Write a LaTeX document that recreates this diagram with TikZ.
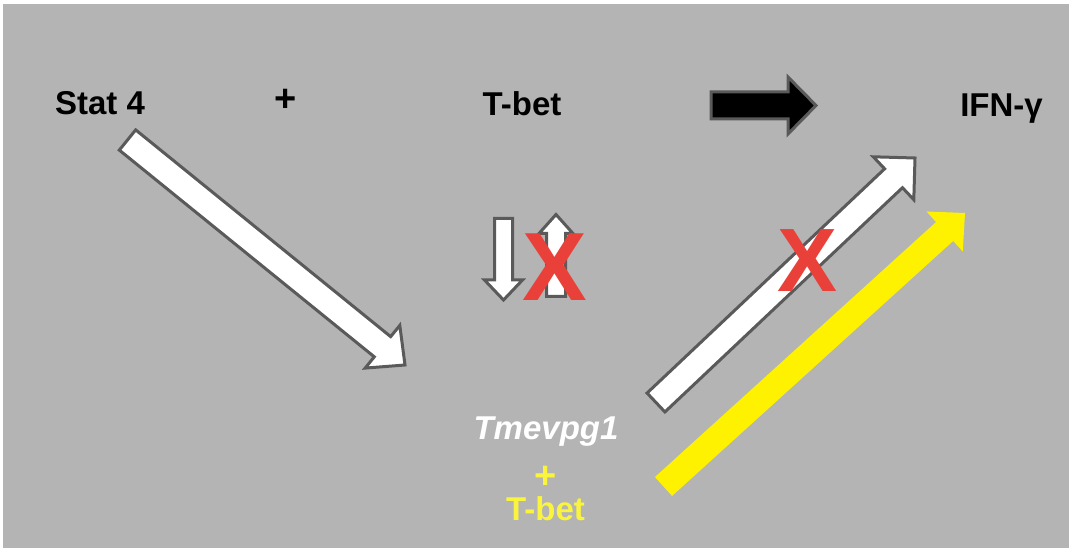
\documentclass[tikz,border=0pt]{standalone}
\usepackage{fontspec}
\setmainfont{Liberation Sans}
\usetikzlibrary{calc}
\definecolor{bggray}{RGB}{180,180,180}
\definecolor{rimgray}{RGB}{90,90,90}
\definecolor{xred}{RGB}{233,65,58}
\definecolor{txtyellow}{RGB}{250,245,60}

% block arrow: [style]{tail}{tip}{half shaft}{half head}{head length}
\newcommand\blockarrow[6][]{%
\coordinate (ba-h) at ($(#3)!#6!(#2)$);
\path[#1] ($(#2)!#4!90:(#3)$) -- ($(ba-h)!#4!90:(#3)$) -- ($(ba-h)!#5!90:(#3)$) -- (#3)
  -- ($(ba-h)!#5!-90:(#3)$) -- ($(ba-h)!#4!-90:(#3)$) -- ($(#2)!#4!-90:(#3)$) -- cycle;}

\begin{document}
\begin{tikzpicture}[x=1pt,y=-1pt,
  word/.style={font=\fontsize{33}{38}\selectfont\bfseries, inner sep=0pt, anchor=base},
  plussign/.style={font=\fontsize{38}{40}\selectfont\bfseries, inner sep=0pt},
  hollow/.style={draw=rimgray, fill=white, line width=3pt, line join=miter},
  solid/.style={draw=rimgray, fill=black, line width=3pt, line join=miter},
  nox/.style={font=\fontsize{#1}{#1}\selectfont\bfseries, text=xred, inner sep=0pt}]
\useasboundingbox (0,0) rectangle (1069,548);
\fill[white] (0,0) rectangle (1069,548);
\fill[bggray] (3,4) rectangle (1069,548);

% top row
\node[word] (stat) at (100,115) {Stat 4};
\node[plussign] (plus) at (286,100) {+};
\node[word] (tbet) at (522,116) {T-bet};
\node[word] (ifn) at (1001.5,117) {IFN-γ};

% bottom text
\node[word,text=white,font=\fontsize{33}{38}\selectfont\bfseries\itshape] (tmev) at (546,439) {Tmevpg1};
\node[plussign,text=txtyellow] (plusy) at (546,477) {+};
\node[word,text=txtyellow] (tbety) at (545.5,520) {T-bet};

% arrow ends
\coordinate (s4a) at (127.5,140);
\coordinate (s4b) at (405,365);
\coordinate (tma) at (656,402.5);
\coordinate (tmb) at (915,158);
\coordinate (tya) at (663.5,486.5);
\coordinate (tyb) at (965,213);
\coordinate (ka) at (711,105.5);
\coordinate (kb) at (816,105.5);
\coordinate (dna) at (503.5,218.5);
\coordinate (dnb) at (503.5,300);
\coordinate (upa) at (556,296.5);
\coordinate (upb) at (556,214.5);

\blockarrow[hollow]{s4a}{s4b}{13pt}{27.5pt}{29pt}
\blockarrow[hollow]{tma}{tmb}{13pt}{29.5pt}{29.5pt}
\blockarrow[fill=yellow]{tya}{tyb}{12.75pt}{27pt}{27.5pt}
\blockarrow[solid]{ka}{kb}{13.5pt}{28.5pt}{28pt}
\blockarrow[hollow]{dna}{dnb}{9pt}{19pt}{20pt}
\blockarrow[hollow]{upa}{upb}{9.5pt}{17pt}{19pt}

% crosses
\node[nox=97] (x1) at (554.5,267) {X};
\node[nox=90] (x2) at (807.5,260.5) {X};
\end{tikzpicture}
\end{document}
